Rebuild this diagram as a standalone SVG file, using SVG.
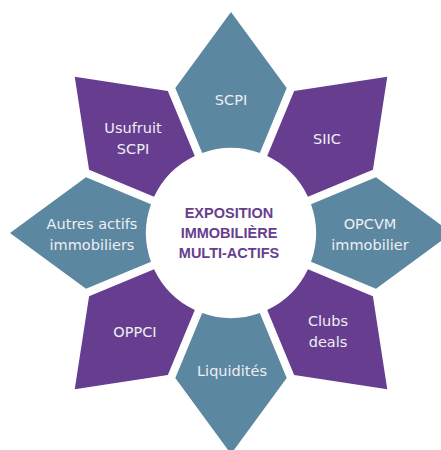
<svg xmlns="http://www.w3.org/2000/svg" width="441" height="450" viewBox="0 0 441 450">
<defs>
<path id="petal" d="M -28.8,-80 L -55.7,-145 L 0,-221 L 55.7,-145 L 28.8,-80 A 85 85 0 0 0 -28.8,-80 Z"/>
<style>
.blue{fill:#5B87A0}
.purple{fill:#673E8F}
.lbl{font-family:"DejaVu Sans","Liberation Sans",sans-serif;font-size:14.5px;fill:#EEEEF4;text-anchor:middle}
.ctr{font-family:"Liberation Sans",Arial,sans-serif;font-size:14.5px;font-weight:bold;fill:#673E8F;text-anchor:middle}
</style>
</defs>
<rect width="441" height="450" fill="#FFFFFF"/>
<g id="scpi">
<use href="#petal" class="blue" transform="translate(231,233) rotate(0)"/>
<text class="lbl" x="231" y="104.5">SCPI</text>
</g>
<g id="siic">
<use href="#petal" class="purple" transform="translate(231,233) rotate(45)"/>
<text class="lbl" x="327" y="143.5">SIIC</text>
</g>
<g id="opcvm">
<use href="#petal" class="blue" transform="translate(231,233) rotate(90)"/>
<text class="lbl" x="370" y="228.5">OPCVM</text>
<text class="lbl" x="370" y="249.5">immobilier</text>
</g>
<g id="clubs">
<use href="#petal" class="purple" transform="translate(231,233) rotate(135)"/>
<text class="lbl" x="328" y="325.5">Clubs</text>
<text class="lbl" x="328" y="346.5">deals</text>
</g>
<g id="liquidites">
<use href="#petal" class="blue" transform="translate(231,233) rotate(180)"/>
<text class="lbl" x="232" y="375.5">Liquidités</text>
</g>
<g id="oppci">
<use href="#petal" class="purple" transform="translate(231,233) rotate(225)"/>
<text class="lbl" x="135" y="336.5">OPPCI</text>
</g>
<g id="autres">
<use href="#petal" class="blue" transform="translate(231,233) rotate(270)"/>
<text class="lbl" x="92" y="228.5">Autres actifs</text>
<text class="lbl" x="92" y="249.5">immobiliers</text>
</g>
<g id="usufruit">
<use href="#petal" class="purple" transform="translate(231,233) rotate(315)"/>
<text class="lbl" x="133" y="132.5">Usufruit</text>
<text class="lbl" x="133" y="153.5">SCPI</text>
</g>
<g id="centre">
<circle cx="231" cy="233" r="78" fill="#FFFFFF"/>
<text class="ctr" x="229" y="218">EXPOSITION</text>
<text class="ctr" x="229" y="238">IMMOBILIÈRE</text>
<text class="ctr" x="229" y="258">MULTI-ACTIFS</text>
</g>
<g id="connectors"/>
</svg>
